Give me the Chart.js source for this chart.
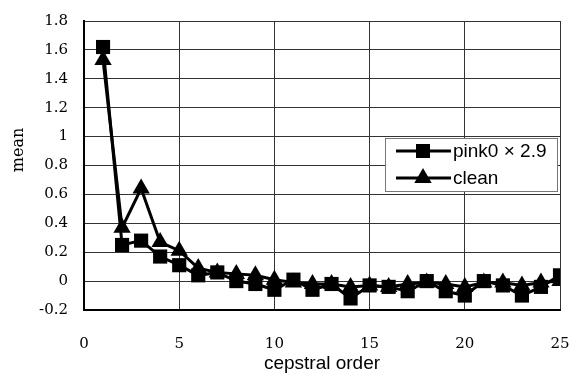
<!DOCTYPE html>
<html>
<head>
<meta charset="utf-8">
<script src="https://cdn.jsdelivr.net/npm/chart.js@4"></script>
<style>
html,body{margin:0;padding:0;background:#fff;}
#wrap{position:relative;width:571px;height:374px;}
</style>
</head>
<body>
<div id="wrap"><canvas id="c" width="571" height="374"></canvas></div>
<script>
const cepstralOrder = [1,2,3,4,5,6,7,8,9,10,11,12,13,14,15,16,17,18,19,20,21,22,23,24,25];
const pinkValues = [1.62,0.25,0.28,0.17,0.11,0.04,0.06,0.00,-0.02,-0.06,0.01,-0.06,-0.02,-0.12,-0.03,-0.04,-0.07,0.00,-0.07,-0.10,0.00,-0.03,-0.10,-0.04,0.04];
const cleanValues = [1.53,0.37,0.64,0.27,0.21,0.09,0.06,0.05,0.04,0.01,-0.01,-0.02,-0.02,-0.04,-0.03,-0.04,-0.02,-0.01,-0.02,-0.04,-0.01,-0.01,-0.03,-0.01,0.00];
const seriesNames = ['pink0 \u00d7 2.9','clean'];
const xTicks = [0,5,10,15,20,25];
const yTicks = [-0.2,0,0.2,0.4,0.6,0.8,1,1.2,1.4,1.6,1.8];
const yTitle = 'mean';
const xTitle = 'cepstral order';

const toPts = vals => cepstralOrder.map((x,i)=>({x:x,y:vals[i]}));

const legendPlugin = {
  id:'boxLegend',
  afterDraw(chart){
    const ctx = chart.ctx;
    const bx=385.5, by=138.5, bw=172, bh=53;
    ctx.save();
    ctx.fillStyle='#fff';
    ctx.fillRect(bx,by,bw,bh);
    ctx.strokeStyle='#777';
    ctx.lineWidth=1;
    ctx.strokeRect(bx,by,bw,bh);
    const rows=[151,178];
    chart.data.datasets.forEach((ds,i)=>{
      const y=rows[i];
      ctx.strokeStyle='#000';
      ctx.lineWidth=3;
      ctx.beginPath();ctx.moveTo(396,y);ctx.lineTo(451,y);ctx.stroke();
      ctx.fillStyle='#000';
      if(ds.pointStyle==='rect'){
        ctx.fillRect(423-7,y-7,14,14);
      } else {
        ctx.beginPath();ctx.moveTo(423,y-10);ctx.lineTo(431.7,y+5);ctx.lineTo(414.3,y+5);ctx.closePath();ctx.fill();
      }
      ctx.font='19px "Liberation Sans", Arial, sans-serif';
      ctx.textBaseline='middle';
      ctx.textAlign='left';
      ctx.fillText(ds.label,453,y+1);
    });
    // y axis title
    ctx.save();
    ctx.translate(19,150);
    ctx.rotate(-Math.PI/2);
    ctx.font='16px "DejaVu Serif", serif';
    ctx.fillStyle='#000';
    ctx.textAlign='center';
    ctx.textBaseline='middle';
    ctx.fillText(yTitle,0,0);
    ctx.restore();
    ctx.restore();
  }
};

new Chart(document.getElementById('c'),{
  type:'line',
  data:{
    datasets:[
      {label:seriesNames[0],data:toPts(pinkValues),borderColor:'#000',backgroundColor:'#000',borderWidth:3,
       pointStyle:'rect',pointRadius:10,pointBorderWidth:0,pointBackgroundColor:'#000',tension:0,order:1},
      {label:seriesNames[1],data:toPts(cleanValues),borderColor:'#000',backgroundColor:'#000',borderWidth:3,
       pointStyle:'triangle',pointRadius:10,pointBorderWidth:0,pointBackgroundColor:'#000',tension:0,order:0}
    ]
  },
  options:{
    responsive:false,
    animation:false,
    devicePixelRatio:1,
    layout:{padding:{left:0,right:11,top:21,bottom:0}},
    plugins:{legend:{display:false},tooltip:{enabled:false}},
    scales:{
      x:{
        type:'linear',min:0,max:25,
        afterBuildTicks(s){s.ticks=xTicks.map(v=>({value:v}));},
        afterFit(s){s.height=64;s.paddingLeft=0;s.paddingRight=0;},
        ticks:{color:'#000',font:{family:'"DejaVu Serif", serif',size:15},padding:25,maxRotation:0},
        grid:{color:'#333',lineWidth:1,drawTicks:false},
        border:{color:'#000',width:2},
        title:{display:true,text:xTitle,color:'#000',font:{family:'"Liberation Sans", Arial, sans-serif',size:19},padding:{top:0,bottom:-1}}
      },
      y:{
        min:-0.2,max:1.8,
        afterBuildTicks(s){s.ticks=yTicks.map(v=>({value:v}));},
        afterFit(s){s.width=84;s.paddingTop=0;s.paddingBottom=0;},
        ticks:{color:'#000',font:{family:'"DejaVu Serif", serif',size:15},padding:16,
          callback:v=>String(Math.round(v*10)/10)},
        grid:{color:'#333',lineWidth:1,drawTicks:false},
        border:{color:'#000',width:2},
        title:{display:false}
      }
    }
  },
  plugins:[legendPlugin]
});
</script>
</body>
</html>
